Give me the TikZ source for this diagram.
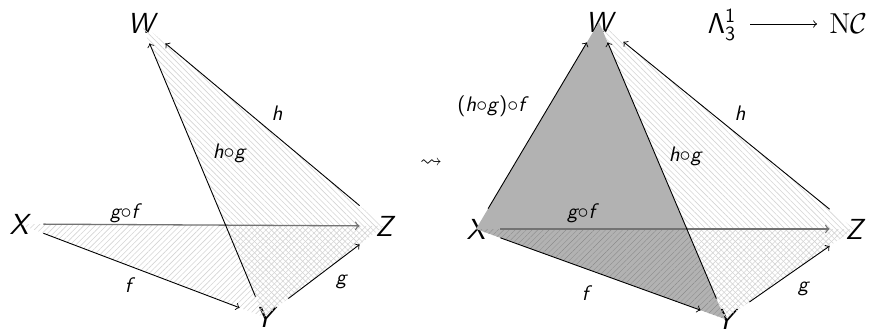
\documentclass[tikz,border=0pt]{standalone}
\usepackage{amssymb}
\usetikzlibrary{patterns.meta}
\begin{document}
\begin{tikzpicture}[x=0.5pt,y=-0.5pt,
  vtx/.style={inner sep=0pt, minimum width=24pt, minimum height=20pt,
    font=\fontsize{14.5}{17}\selectfont\sffamily\slshape},
  lbl/.style={inner sep=0pt, font=\fontsize{10.5}{12}\selectfont\sffamily\slshape},
  arr/.style={->, >=to, line width=0.45pt},
  garr/.style={arr, draw=black!55, line width=0.65pt},
  hne/.style={pattern={Lines[angle=45,distance=2pt,line width=0.3pt]}, pattern color=black!17},
  hnw/.style={pattern={Lines[angle=-45,distance=2pt,line width=0.3pt]}, pattern color=black!17},
  hnedark/.style={pattern={Lines[angle=45,distance=2pt,line width=0.3pt]}, pattern color=black!45},
  grayface/.style={fill=gray!60}
]
\useasboundingbox (0,0) rectangle (876,332);

% ---------- left diagram ----------
\node[vtx] (X1) at (19,224) {X};
\node[vtx] (Z1) at (384,226) {Z};
\node[vtx] (W1) at (141,23) {W};
\node[vtx] (Y1) at (264,317) {Y};

\fill[hne] (X1.center) -- (Y1.center) -- (Z1.center) -- cycle;
\fill[hnw] (W1.center) -- (Y1.center) -- (Z1.center) -- cycle;

\draw[garr] (X1) -- (Z1);
\draw[arr] (X1) -- (Y1);
\draw[arr] (Y1) -- (Z1);
\draw[arr] (Y1) -- (W1);
\draw[arr] (Z1) -- (W1);

\node[lbl] (h1)  at (277,113) {h};
\node[lbl] (hg1) at (229,153) {h$\circ$g};
\node[lbl] (gf1) at (124,213) {g$\circ$f};
\node[lbl] (f1)  at (128,285) {f};
\node[lbl] (g1)  at (341,282) {g};

% ---------- squiggle ----------
\node[inner sep=0pt, font=\fontsize{11}{12}\selectfont] (sq) at (431,163) {$\rightsquigarrow$};

% ---------- right diagram ----------
\node[vtx] (X2) at (476,229) {X};
\node[vtx] (Z2) at (854,229) {Z};
\node[vtx] (W2) at (599,22) {W};
\node[vtx] (Y2) at (725,319) {Y};

\fill[grayface] (X2.center) -- (W2.center) -- (Y2.center) -- cycle;
\fill[hne] (X2.center) -- (Y2.center) -- (Z2.center) -- cycle;
\begin{scope}
  \clip (X2.center) -- (W2.center) -- (Y2.center) -- cycle;
  \fill[hnedark] (X2.center) -- (Y2.center) -- (Z2.center) -- cycle;
\end{scope}
\fill[hnw] (W2.center) -- (Y2.center) -- (Z2.center) -- cycle;

\draw[garr] (X2) -- (Z2);
\draw[arr] (X2) -- (Y2);
\draw[arr] (Y2) -- (Z2);
\draw[arr] (X2) -- (W2);
\draw[arr] (Y2) -- (W2);
\draw[arr] (Z2) -- (W2);

\node[lbl] (hgf2) at (491,106) {\textup{(}h$\circ$g\textup{)}$\circ$f};
\node[lbl] (h2)   at (740,113) {h};
\node[lbl] (hg2)  at (685,156) {h$\circ$g};
\node[lbl] (gf2)  at (581,213) {g$\circ$f};
\node[lbl] (f2)   at (585,293) {f};
\node[lbl] (g2)   at (803,289) {g};

% ---------- top right ----------
\node[inner sep=0pt, anchor=base, font=\fontsize{14}{16}\selectfont] (L) at (722,33)
  {$\mathsf{\Lambda}^{\mathsf{1}}_{\mathsf{3}}$};
\node[inner sep=0pt, anchor=base west, font=\fontsize{14}{16}\selectfont] (NC) at (829,33)
  {$\mathrm{N}\mathcal{C}$};
\draw[arr, shorten <=7pt, shorten >=6pt] ([yshift=4.5pt]L.base east) -- ([yshift=4.5pt]NC.base west);
\end{tikzpicture}
\end{document}
